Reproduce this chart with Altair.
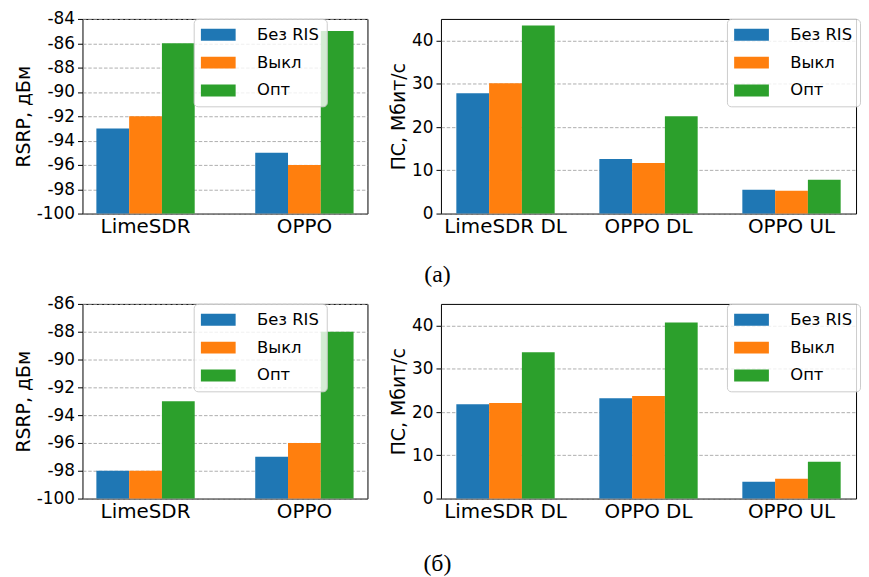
import altair as alt
import pandas as pd

series = ["Без RIS", "Выкл", "Опт"]
colors = ["#1f77b4", "#ff7f0e", "#2ca02c"]

rsrp_cats = ["LimeSDR", "OPPO"]
tp_cats = ["LimeSDR DL", "OPPO DL", "OPPO UL"]

# (а)
rsrp_a_bez = [-93, -95]
rsrp_a_vykl = [-92, -96]
rsrp_a_opt = [-86, -85]
tp_a_bez = [27.8, 12.6, 5.5]
tp_a_vykl = [30.1, 11.7, 5.3]
tp_a_opt = [43.5, 22.5, 7.8]

# (б)
rsrp_b_bez = [-98, -97]
rsrp_b_vykl = [-98, -96]
rsrp_b_opt = [-93, -88]
tp_b_bez = [21.8, 23.2, 3.9]
tp_b_vykl = [22.1, 23.7, 4.6]
tp_b_opt = [33.8, 40.7, 8.5]

rsrp_a_ticks = [-100, -98, -96, -94, -92, -90, -88, -86, -84]
rsrp_b_ticks = [-100, -98, -96, -94, -92, -90, -88, -86]
tp_ticks = [0, 10, 20, 30, 40]

FONT = "DejaVu Sans"
PLOT_H = 196
SWATCH = "M-2,-0.686L2,-0.686L2,0.686L-2,0.686Z"


def make_df(cats, lists):
    rows = []
    for s, vals in zip(series, lists):
        for c, v in zip(cats, vals):
            rows.append({"cat": c, "series": s, "value": v})
    return pd.DataFrame(rows)


def panel(cats, lists, ydom, yticks, ytitle, width, pin, pout, lx):
    df = make_df(cats, lists)
    return alt.Chart(df).mark_bar().encode(
        x=alt.X("cat:N", sort=cats,
                scale=alt.Scale(paddingInner=pin, paddingOuter=pout),
                axis=alt.Axis(title=None, labelAngle=0, ticks=False, domain=False,
                              labelFontSize=20, labelPadding=3, labelFont=FONT,
                              labelColor="black")),
        xOffset=alt.XOffset("series:N", sort=series,
                            scale=alt.Scale(paddingInner=0, paddingOuter=0)),
        y=alt.Y("value:Q",
                scale=alt.Scale(domain=ydom, zero=False, nice=False),
                axis=alt.Axis(title=ytitle, values=yticks, labelExpr="datum.value + ''",
                              grid=True, gridDash=[3.5, 1.8], gridColor="#9a9a9a",
                              gridWidth=0.8, domain=False, tickColor="black",
                              tickSize=5, tickWidth=1, labelFontSize=17, labelFont=FONT,
                              labelColor="black", labelPadding=3, titleFont=FONT,
                              titleFontSize=19, titleFontWeight="normal",
                              titleColor="black", titlePadding=3)),
        y2=alt.datum(ydom[0]),
        color=alt.Color("series:N", sort=series,
                        scale=alt.Scale(domain=series, range=colors),
                        legend=alt.Legend(title=None, orient="none", legendX=lx, legendY=0,
                                          symbolType=SWATCH, symbolSize=306,
                                          symbolStrokeWidth=0, symbolOpacity=1,
                                          symbolOffset=8.75,
                                          labelFontSize=16.5, labelFont=FONT,
                                          labelColor="black", labelOffset=30,
                                          rowPadding=10, padding=7,
                                          fillColor="rgba(255,255,255,0.8)",
                                          strokeColor="#cccccc", cornerRadius=4)),
    ).properties(width=width, height=PLOT_H)


def row(caption, rsrp_lists, rsrp_dom, rsrp_ticks, tp_lists, off):
    left = panel(rsrp_cats, rsrp_lists, rsrp_dom, rsrp_ticks, "RSRP, дБм",
                 287, 0.381, 0.0875, 112)
    right = panel(tp_cats, tp_lists, [0, 45], tp_ticks, "ПС, Мбит/с",
                  418, 0.3125, 0.1076, 288)
    return alt.hconcat(left, right, spacing=20).resolve_legend(color="independent").properties(
        title=alt.TitleParams(text=caption, orient="bottom", anchor="middle",
                              font="Liberation Serif", fontSize=24, fontWeight="normal",
                              color="black", offset=off)
    )


row_a = row("(а)", [rsrp_a_bez, rsrp_a_vykl, rsrp_a_opt], [-100, -84], rsrp_a_ticks,
            [tp_a_bez, tp_a_vykl, tp_a_opt], 26)
row_b = row("(б)", [rsrp_b_bez, rsrp_b_vykl, rsrp_b_opt], [-100, -86], rsrp_b_ticks,
            [tp_b_bez, tp_b_vykl, tp_b_opt], 30)

chart = alt.vconcat(row_a, row_b, spacing=7).resolve_legend(color="independent").properties(
    padding={"left": 5, "top": -1, "right": 0, "bottom": 0}
).configure_view(stroke="black", strokeWidth=1)

chart.save("out.html", embed_options={"renderer": "svg", "actions": False})
